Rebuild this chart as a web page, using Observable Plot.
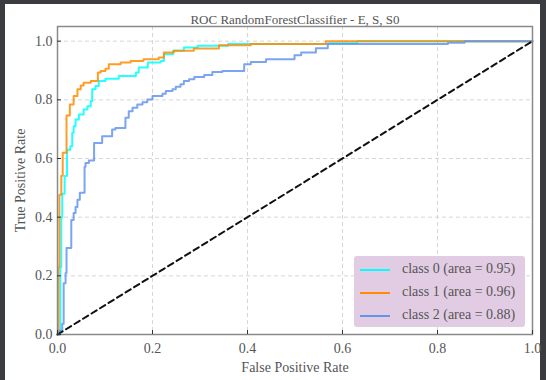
<!DOCTYPE html>
<html>
<head>
<meta charset="utf-8">
<script src="https://cdn.jsdelivr.net/npm/d3@7"></script>
<script src="https://cdn.jsdelivr.net/npm/@observablehq/plot@0.6"></script>
<style>
  html, body { margin: 0; padding: 0; width: 546px; height: 380px; background: #3b3c40; overflow: hidden; }
  #paper { position: absolute; left: 5px; top: 4px; width: 535px; height: 376px; background: #fff; }
  #chart { position: absolute; left: 0; top: 0; }
  #legend { position: absolute; left: 354px; top: 256px; width: 171px; height: 71px; background: #e2cce4;
            border-radius: 3px; font-family: "Liberation Serif", serif; font-size: 14px; color: #555; box-sizing: border-box; padding-top: 3px; }
  .row { position: relative; height: 23px; }
  .sw { position: absolute; left: 6px; top: 10px; width: 30px; height: 2px; }
  .lb { position: absolute; left: 48px; top: 2px; white-space: nowrap; }
</style>
</head>
<body>
<div id="paper"></div>
<div id="chart"></div>
<div id="legend"></div>
<script>
const title = "ROC RandomForestClassifier - E, S, S0";
const xLabel = "False Positive Rate";
const yLabel = "True Positive Rate";
const classes = ["class 0", "class 1", "class 2"];
const aucs = [0.95, 0.96, 0.88];
const colors = ["#00ffff", "#ff8c00", "#6495ed"];
const xTicks = [0, 0.2, 0.4, 0.6, 0.8, 1.0];
const yTicks = [0, 0.2, 0.4, 0.6, 0.8, 1.0];

// class 0 (cyan)
const fpr0 = [0, 0.006, 0.008, 0.010, 0.015, 0.020, 0.027, 0.031, 0.034, 0.038, 0.045, 0.055, 0.063, 0.070, 0.073, 0.080, 0.087, 0.101, 0.129, 0.165, 0.171, 0.190, 0.217, 0.224, 0.243, 0.266, 0.295, 0.359, 0.570, 0.631, 1.0];
const tpr0 = [0, 0.230, 0.400, 0.480, 0.540, 0.630, 0.642, 0.688, 0.710, 0.733, 0.750, 0.767, 0.778, 0.796, 0.836, 0.847, 0.864, 0.872, 0.881, 0.893, 0.910, 0.927, 0.932, 0.955, 0.967, 0.978, 0.984, 0.990, 0.993, 1.0, 1.0];
// class 1 (orange)
const fpr1 = [0, 0.002, 0.004, 0.008, 0.011, 0.019, 0.026, 0.034, 0.042, 0.049, 0.055, 0.070, 0.085, 0.091, 0.101, 0.108, 0.133, 0.154, 0.181, 0.213, 0.224, 0.245, 0.287, 0.340, 0.407, 0.565, 1.0];
const tpr1 = [0, 0.230, 0.476, 0.541, 0.620, 0.747, 0.784, 0.813, 0.836, 0.849, 0.858, 0.864, 0.893, 0.898, 0.906, 0.921, 0.927, 0.932, 0.938, 0.944, 0.961, 0.967, 0.975, 0.986, 0.990, 1.0, 1.0];
// class 2 (blue)
const fpr2 = [0, 0.004, 0.010, 0.013, 0.017, 0.019, 0.029, 0.034, 0.038, 0.042, 0.047, 0.057, 0.059, 0.066, 0.077, 0.094, 0.115, 0.122, 0.143, 0.150, 0.158, 0.168, 0.179, 0.189, 0.200, 0.221, 0.228, 0.242, 0.249, 0.259, 0.266, 0.277, 0.288, 0.309, 0.326, 0.347, 0.393, 0.407, 0.439, 0.499, 0.513, 0.544, 0.569, 0.822, 0.857, 1.0];
const tpr2 = [0, 0.014, 0.037, 0.175, 0.210, 0.295, 0.390, 0.414, 0.435, 0.459, 0.483, 0.572, 0.585, 0.593, 0.653, 0.676, 0.699, 0.704, 0.739, 0.761, 0.773, 0.784, 0.792, 0.801, 0.813, 0.821, 0.830, 0.836, 0.845, 0.853, 0.864, 0.870, 0.878, 0.885, 0.895, 0.898, 0.921, 0.929, 0.938, 0.952, 0.961, 0.976, 0.990, 0.995, 1.0, 1.0];

const diagX = [0, 1];
const diagY = [0, 1];

const series = [[fpr0, tpr0], [fpr1, tpr1], [fpr2, tpr2]];
const rows = [];
series.forEach(([f, t], i) => f.forEach((v, j) => rows.push({cls: classes[i], fpr: v, tpr: t[j]})));
const diag = diagX.map((v, i) => ({x: v, y: diagY[i]}));

const chart = Plot.plot({
  width: 546,
  height: 380,
  marginLeft: 57,
  marginRight: 14,
  marginTop: 26,
  marginBottom: 46,
  style: {background: "transparent", fontFamily: "Liberation Serif, serif", fontSize: "14px", color: "#555"},
  x: {domain: [0, 1]},
  y: {domain: [0, 1.05]},
  color: {domain: classes, range: colors},
  marks: [
    Plot.gridX(xTicks, {stroke: "#d6d6d6", strokeOpacity: 1, strokeDasharray: "4,3"}),
    Plot.gridY(yTicks, {stroke: "#d6d6d6", strokeOpacity: 1, strokeDasharray: "4,3"}),
    Plot.line(rows, {x: "fpr", y: "tpr", z: "cls", stroke: "cls", curve: "step-after", strokeWidth: 2, strokeOpacity: 0.85}),
    Plot.line(diag, {x: "x", y: "y", stroke: "#111", strokeWidth: 2, strokeDasharray: "6,4"}),
    Plot.frame({stroke: "#8a8a8a", strokeWidth: 1.5}),
    Plot.tickX(xTicks, {x: d => d, insetTop: 304, stroke: "#333"}),
    Plot.tickY(yTicks, {y: d => d, insetRight: 471, stroke: "#333"}),
    Plot.axisX(xTicks, {tickSize: 0, tickPadding: 9, tickFormat: d3.format(".1f"), label: xLabel, labelAnchor: "center", labelOffset: 37, labelArrow: "none", fontSize: 14}),
    Plot.axisY(yTicks, {tickSize: 0, tickPadding: 5, tickFormat: d3.format(".1f"), label: yLabel, labelAnchor: "center", labelOffset: 42, labelArrow: "none", fontSize: 14}),
    Plot.text([title], {frameAnchor: "top", dy: -12, fontSize: 13, fill: "#555"})
  ]
});
document.getElementById("chart").appendChild(chart);

const legend = document.getElementById("legend");
classes.forEach((c, i) => {
  const row = document.createElement("div");
  row.className = "row";
  const sw = document.createElement("div");
  sw.className = "sw";
  sw.style.background = colors[i];
  const lb = document.createElement("div");
  lb.className = "lb";
  lb.textContent = `${c} (area = ${aucs[i].toFixed(2)})`;
  row.appendChild(sw);
  row.appendChild(lb);
  legend.appendChild(row);
});
</script>
</body>
</html>
